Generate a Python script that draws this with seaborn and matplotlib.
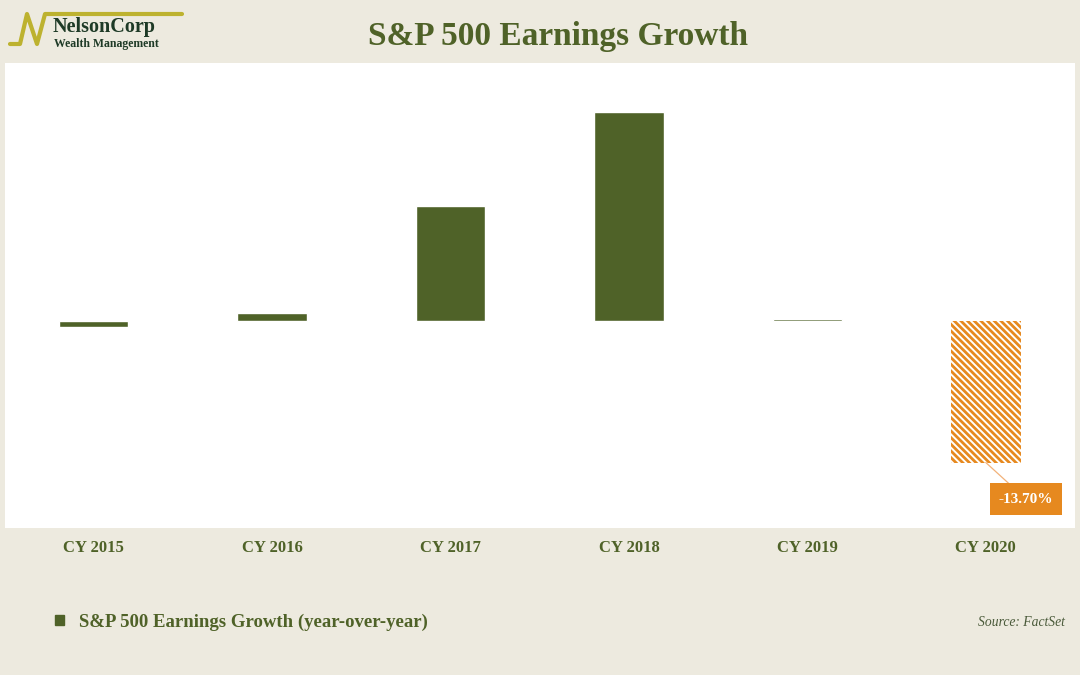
import seaborn as sns
import pandas as pd
import matplotlib.pyplot as plt
from matplotlib.lines import Line2D
from matplotlib.patches import Patch

# data (percent, year-over-year)
years = ['CY 2015', 'CY 2016', 'CY 2017', 'CY 2018', 'CY 2019', 'CY 2020']
growth = [-0.6, 0.8, 11.2, 20.3, 0.2, -13.7]
estimate_year = 'CY 2020'
estimate_label = '-13.70%'

green = '#4F6228'
orange = '#E6891F'
bg = '#EDEADF'

sns.set_style('white')
plt.rcParams['font.family'] = ['Liberation Serif', 'DejaVu Serif']
plt.rcParams['hatch.linewidth'] = 2.0

df = pd.DataFrame({'year': years, 'growth': growth})

fig = plt.figure(figsize=(10.8, 6.75), dpi=100, facecolor=bg)
ax = fig.add_axes([4.5 / 1080, 1 - 527.5 / 675, 1070.5 / 1080, 464.2 / 675])
ax.set_facecolor('white')

sns.barplot(data=df, x='year', y='growth', color=green, saturation=1,
            width=0.39, ax=ax)

# last year is an estimate -> hatched orange bar
idx = years.index(estimate_year)
p = ax.patches[idx]
p.set_facecolor('white')
p.set_edgecolor(orange)
p.set_linewidth(0)
p.set_hatch('\\' * 5)

ax.annotate(estimate_label, xy=(idx, growth[idx]), xytext=(idx + 0.225, growth[idx] - 3.55),
            ha='center', va='center', color='white', fontsize=11, fontweight='bold',
            bbox=dict(boxstyle='square,pad=0.6', fc=orange, ec='none'),
            arrowprops=dict(arrowstyle='-', color='#F2B27A', lw=0.9, shrinkA=0, shrinkB=0))

ax.set_ylim(-20, 25)
ax.set_xlim(-0.5, len(years) - 0.5)
ax.set_xlabel('')
ax.set_ylabel('')
ax.set_yticks([])
ax.tick_params(axis='x', length=0, pad=9, labelsize=12, labelcolor=green)
for t in ax.get_xticklabels():
    t.set_fontweight('bold')
sns.despine(ax=ax, left=True, bottom=True, top=True, right=True)

# title
fig.text(558 / 1080, 1 - 36 / 675, 'S&P 500 Earnings Growth', ha='center', va='center',
         fontsize=24, fontweight='bold', color=green)

# logo
gold = '#BDB22F'
lx = [10, 20, 27, 37, 45, 182]
ly = [44, 44, 14, 44, 14, 14]
fig.add_artist(Line2D([x / 1080 for x in lx], [1 - y / 675 for y in ly],
                      transform=fig.transFigure, color=gold, lw=3))
fig.text(53 / 1080, 1 - 32 / 675, 'NelsonCorp', ha='left', va='baseline',
         fontsize=14.5, fontweight='bold', color='#1E3A26')
fig.text(54 / 1080, 1 - 47.5 / 675, 'Wealth Management', ha='left', va='baseline',
         fontsize=8.5, fontweight='bold', color='#1E3A26')

# legend and source
fig.legend(handles=[Patch(color=green, label='S&P 500 Earnings Growth (year-over-year)')],
           loc='center left', bbox_to_anchor=(38 / 1080, 1 - 622 / 675), frameon=False,
           handlelength=0.5, handleheight=0.5, handletextpad=0.8,
           prop={'weight': 'bold', 'size': 13.5}, labelcolor=green)
fig.text(1065 / 1080, 1 - 623 / 675, 'Source: FactSet', ha='right', va='center',
         fontsize=9.8, style='italic', color='#4A5A3A')

fig.savefig('out.png', dpi=100, facecolor=bg)
